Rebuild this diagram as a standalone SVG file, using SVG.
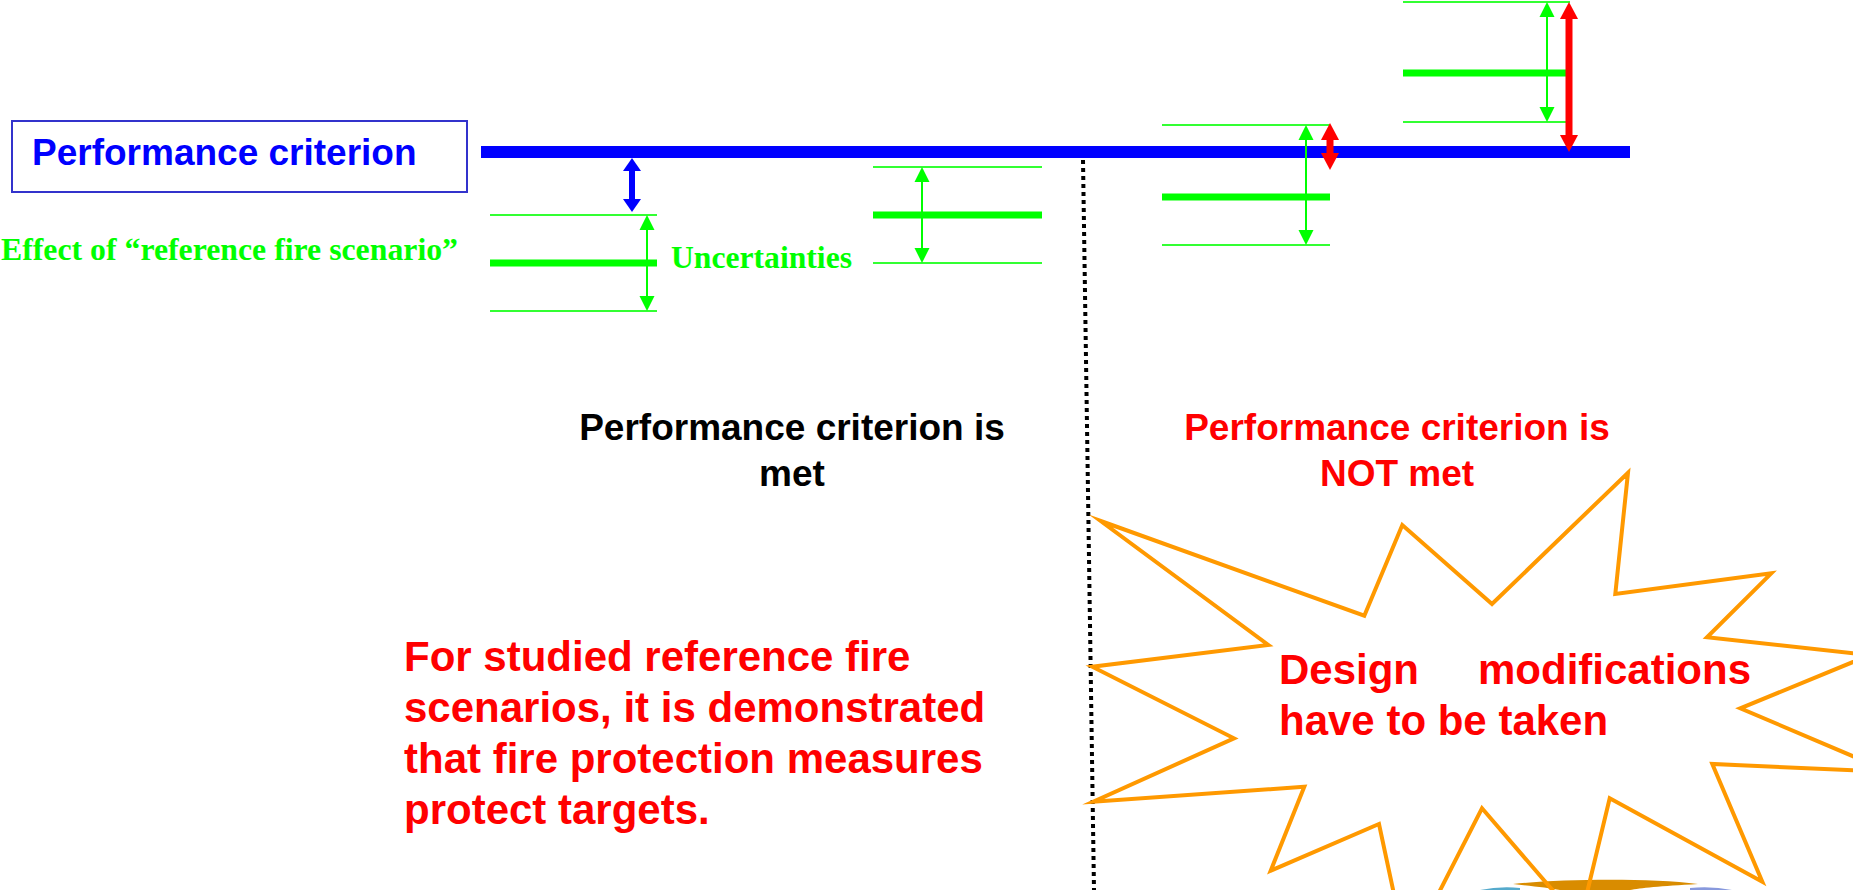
<svg xmlns="http://www.w3.org/2000/svg" width="1853" height="890" viewBox="0 0 1853 890">
<style>
.sans{font-family:"Liberation Sans",Arial,sans-serif;font-weight:bold}
.serif{font-family:"Liberation Serif","Times New Roman",serif;font-weight:bold}
.thin{stroke:#33ff33;stroke-width:2;fill:none}
.thick{stroke:#00ff00;stroke-width:7;fill:none}
.garrow{stroke:#00ff00;stroke-width:2;fill:none;marker-start:url(#gh);marker-end:url(#gh)}
.rarrow{stroke:#ff0000;stroke-width:7;fill:none;marker-start:url(#rh);marker-end:url(#rh)}
.barrow{stroke:#0000ff;stroke-width:6;fill:none;marker-start:url(#bh);marker-end:url(#bh)}
</style>
<defs>
<marker id="gh" markerUnits="userSpaceOnUse" markerWidth="15" markerHeight="15" refX="0" refY="7.5" orient="auto-start-reverse" overflow="visible"><path d="M0,0 L15,7.5 L0,15 z" fill="#00ff00"/></marker>
<marker id="rh" markerUnits="userSpaceOnUse" markerWidth="17" markerHeight="18" refX="0" refY="9" orient="auto-start-reverse" overflow="visible"><path d="M0,0 L17,9 L0,18 z" fill="#ff0000"/></marker>
<marker id="bh" markerUnits="userSpaceOnUse" markerWidth="13" markerHeight="18" refX="0" refY="9" orient="auto-start-reverse" overflow="visible"><path d="M0,0 L13,9 L0,18 z" fill="#0000ff"/></marker>
</defs>
<rect width="1853" height="890" fill="#ffffff"/>

<g id="criterion-box">
<rect x="12" y="121" width="455" height="71" fill="none" stroke="#3333cc" stroke-width="2"/>
<text x="32" y="165" class="sans" font-size="37" fill="#0000ff">Performance criterion</text>
</g>

<g id="criterion-line">
<line x1="481" y1="152" x2="1630" y2="152" stroke="#0000ff" stroke-width="12"/>
</g>

<g id="group1">
<line class="thin" x1="490" y1="215" x2="657" y2="215"/>
<line class="thick" x1="490" y1="263" x2="657" y2="263"/>
<line class="thin" x1="490" y1="311" x2="657" y2="311"/>
<text x="1" y="260" class="serif" font-size="31" fill="#00ff00" textLength="457" lengthAdjust="spacingAndGlyphs">Effect of “reference fire scenario”</text>
<text x="671" y="268" class="serif" font-size="31" fill="#00ff00" textLength="181" lengthAdjust="spacingAndGlyphs">Uncertainties</text>
</g>

<g id="group2">
<line class="thin" x1="873" y1="167" x2="1042" y2="167"/>
<line class="thick" x1="873" y1="215" x2="1042" y2="215"/>
<line class="thin" x1="873" y1="263" x2="1042" y2="263"/>
</g>

<g id="group3">
<line class="thin" x1="1162" y1="125" x2="1330" y2="125"/>
<line class="thick" x1="1162" y1="197" x2="1330" y2="197"/>
<line class="thin" x1="1162" y1="245" x2="1330" y2="245"/>
</g>

<g id="group4">
<line class="thin" x1="1403" y1="2" x2="1570" y2="2"/>
<line class="thick" x1="1403" y1="73" x2="1567" y2="73"/>
<line class="thin" x1="1403" y1="122" x2="1570" y2="122"/>
</g>

<g id="connectors">
<line class="barrow" x1="632" y1="171" x2="632" y2="199"/>
<line class="garrow" x1="647" y1="230" x2="647" y2="296"/>
<line class="garrow" x1="922" y1="182" x2="922" y2="248"/>
<line class="garrow" x1="1306" y1="140" x2="1306" y2="230"/>
<line class="rarrow" x1="1330" y1="140" x2="1330" y2="153"/>
<line class="garrow" x1="1547" y1="17" x2="1547" y2="107"/>
<line class="rarrow" x1="1569" y1="19" x2="1569" y2="135"/>
<line x1="1083" y1="160" x2="1094" y2="890" stroke="#000000" stroke-width="4" stroke-dasharray="4 4"/>
</g>

<g id="met-label">
<text class="sans" font-size="37" fill="#000000" text-anchor="middle"><tspan x="792" y="440">Performance criterion is</tspan><tspan x="792" y="486">met</tspan></text>
</g>

<g id="not-met-label">
<text class="sans" font-size="37" fill="#ff0000" text-anchor="middle"><tspan x="1397" y="440">Performance criterion is</tspan><tspan x="1397" y="486">NOT met</tspan></text>
</g>

<g id="conclusion">
<text class="sans" font-size="42" fill="#ff0000"><tspan x="404" y="671">For studied reference fire</tspan><tspan x="404" y="722">scenarios, it is demonstrated</tspan><tspan x="404" y="773">that fire protection measures</tspan><tspan x="404" y="824">protect targets.</tspan></text>
</g>

<g id="picture-fragment">
<path d="M1480,890 Q1500,886 1520,888 L1520,890 Z" fill="#55aacc"/>
<path d="M1690,888 Q1712,886 1732,890 L1690,890 Z" fill="#8899dd"/>
<path d="M1513,884 C1560,879 1650,878 1698,884 C1660,886 1640,888 1630,890 L1560,890 C1550,888 1530,886 1513,884 Z" fill="#d98c00"/>
</g>

<g id="starburst">
<polygon points="1100.7,521 1364.3,615.7 1402.3,525 1492,604 1628,472.7 1615.3,594 1771.3,573.3 1707,637.3 1870,655 1740.3,708.3 1890,772 1712.3,764 1762.3,881.7 1609.7,798.3 1580,922 1482,808.3 1407,955 1379,824 1270.7,870.7 1304.3,786.7 1093.3,801.7 1234,738.3 1092.3,666.7 1268.3,645" fill="none" stroke="#ff9900" stroke-width="4" stroke-miterlimit="10"/>
<text class="sans" font-size="42" fill="#ff0000"><tspan x="1279" y="684">Design</tspan><tspan x="1478" y="684">modifications</tspan><tspan x="1279" y="735">have to be taken</tspan></text>
</g>
</svg>
